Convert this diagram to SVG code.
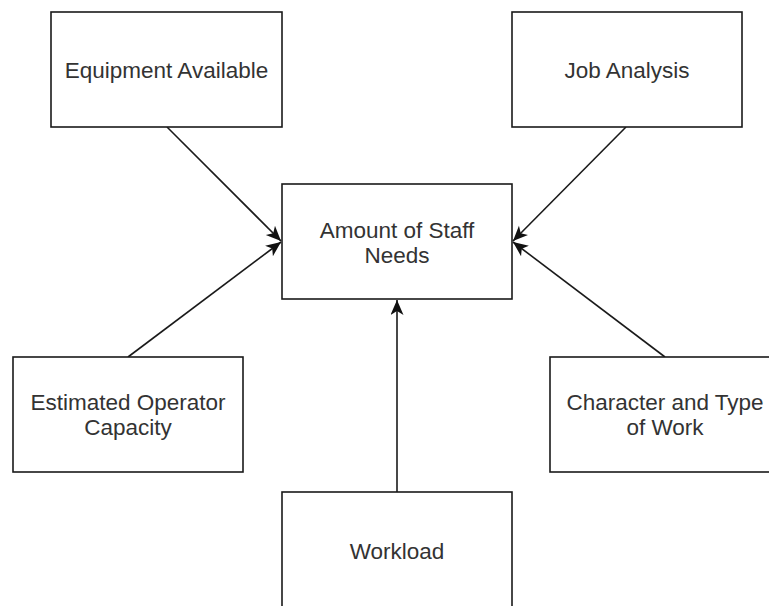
<svg xmlns="http://www.w3.org/2000/svg" width="769" height="606" viewBox="0 0 769 606">
  <style>
    .box { fill: #ffffff; stroke: #1a1a1a; stroke-width: 1.6; }
    .label { font-family: "Liberation Sans", Arial, sans-serif; font-size: 22.5px; fill: #333333; text-anchor: middle; }
    .edge { fill: none; stroke: #1a1a1a; stroke-width: 1.6; marker-end: url(#arrow); }
  </style>
  <defs>
    <marker id="arrow" markerUnits="userSpaceOnUse" markerWidth="17" markerHeight="15" refX="15" refY="6.5" orient="auto">
      <path d="M0,0 L15,6.5 L0,13 L4,6.5 Z" fill="#111111"/>
    </marker>
  </defs>
  <rect width="769" height="606" fill="#ffffff"/>

  <g id="connectors">
    <line class="edge" x1="167" y1="127" x2="281" y2="241"/>
    <line class="edge" x1="626" y1="127" x2="513" y2="241"/>
    <line class="edge" x1="128" y1="357" x2="281" y2="242"/>
    <line class="edge" x1="665" y1="357" x2="513" y2="242"/>
    <line class="edge" x1="397" y1="492" x2="397" y2="300"/>
  </g>

  <g id="equipment">
    <rect class="box" x="51" y="12" width="231" height="115"/>
    <text class="label" x="166.5" y="77.5">Equipment Available</text>
  </g>

  <g id="job-analysis">
    <rect class="box" x="512" y="12" width="230" height="115"/>
    <text class="label" x="627" y="77.5">Job Analysis</text>
  </g>

  <g id="staff-needs">
    <rect class="box" x="282" y="184" width="230" height="115"/>
    <text class="label" x="397" y="237.5">Amount of Staff</text>
    <text class="label" x="397" y="262.5">Needs</text>
  </g>

  <g id="operator-capacity">
    <rect class="box" x="13" y="357" width="230" height="115"/>
    <text class="label" x="128" y="409.5">Estimated Operator</text>
    <text class="label" x="128" y="434.5">Capacity</text>
  </g>

  <g id="work-type">
    <rect class="box" x="550" y="357" width="230" height="115"/>
    <text class="label" x="665" y="409.5">Character and Type</text>
    <text class="label" x="665" y="434.5">of Work</text>
  </g>

  <g id="workload">
    <rect class="box" x="282" y="492" width="230" height="115"/>
    <text class="label" x="397" y="558.5">Workload</text>
  </g>
</svg>
